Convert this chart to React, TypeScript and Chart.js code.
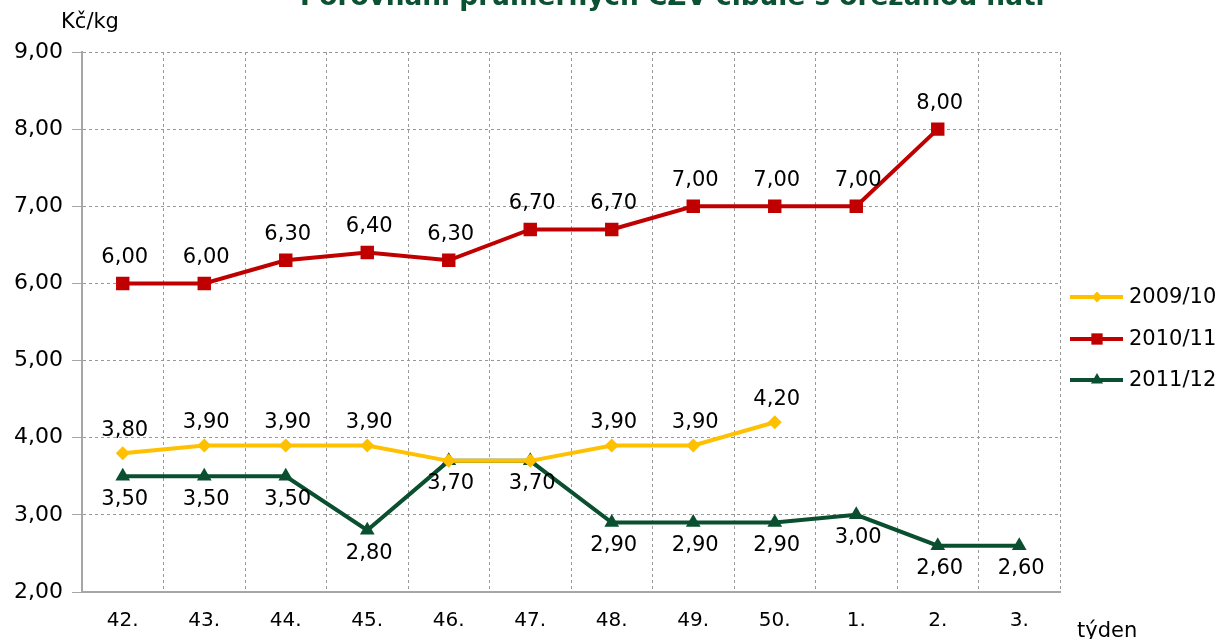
import React, { useEffect, useRef } from "react";
import { Chart, registerables } from "chart.js";
import { drawPoint } from "chart.js/helpers";

Chart.register(...registerables);

const weeks = ["42.", "43.", "44.", "45.", "46.", "47.", "48.", "49.", "50.", "1.", "2.", "3."];
const s0910 = [3.8, 3.9, 3.9, 3.9, 3.7, 3.7, 3.9, 3.9, 4.2, null, null, null];
const s1011 = [6.0, 6.0, 6.3, 6.4, 6.3, 6.7, 6.7, 7.0, 7.0, 7.0, 8.0, null];
const s1112 = [3.5, 3.5, 3.5, 2.8, 3.7, 3.7, 2.9, 2.9, 2.9, 3.0, 2.6, 2.6];
const seriesNames = ["2009/10", "2010/11", "2011/12"];
const seriesColors = ["#FFC000", "#C00000", "#0B4F31"];
const seriesMarkers = ["rectRot", "rect", "triangle"];
const markerRadius = [7, 9.5, 8.5];
const labelSide = ["above", "above", "below"];
const yMin = 2;
const yMax = 9;
const yStep = 1;
const titleText = "Porovnání průměrných CZV cibule s ořezanou natí";
const yUnit = "Kč/kg";
const xTitle = "týden";

const FONT = "'DejaVu Sans', Verdana, sans-serif";
const fmt = (v: number) => v.toFixed(2).replace(".", ",");

const extrasPlugin = {
  id: "extras",
  afterDatasetsDraw(chart: any) {
    const ctx: CanvasRenderingContext2D = chart.ctx;
    ctx.save();
    ctx.font = `21px ${FONT}`;
    ctx.fillStyle = "#000";
    ctx.textAlign = "center";
    ctx.textBaseline = "middle";
    chart.data.datasets.forEach((ds: any, di: number) => {
      const meta = chart.getDatasetMeta(di);
      meta.data.forEach((pt: any, i: number) => {
        const v = ds.data[i];
        if (v === null || v === undefined) return;
        if (di === 0 && s1112[i] === v) return;
        const off = labelSide[di] === "above" ? (di === 1 ? -26 : -23) : 23;
        ctx.fillText(fmt(v), pt.x + 2, pt.y + off);
      });
    });
    ctx.restore();
  },
  afterDraw(chart: any) {
    const ctx: CanvasRenderingContext2D = chart.ctx;
    ctx.save();
    ctx.font = `bold 26px ${FONT}`;
    const w = ctx.measureText(titleText).width;
    const size = (26 * 745) / w;
    ctx.font = `bold ${size}px ${FONT}`;
    ctx.fillStyle = "#0B5132";
    ctx.textAlign = "left";
    ctx.textBaseline = "alphabetic";
    ctx.fillText(titleText, 300, 5);
    ctx.font = `21px ${FONT}`;
    ctx.fillStyle = "#000";
    ctx.textAlign = "center";
    ctx.textBaseline = "middle";
    ctx.fillText(yUnit, 90, 23);
    ctx.textAlign = "left";
    ctx.textBaseline = "alphabetic";
    ctx.fillText(xTitle, 1077, 637);
    const ys = [297, 339, 380];
    seriesNames.forEach((name, i) => {
      const y = ys[i];
      ctx.strokeStyle = seriesColors[i];
      ctx.lineWidth = 4;
      ctx.beginPath();
      ctx.moveTo(1070, y);
      ctx.lineTo(1123, y);
      ctx.stroke();
      ctx.fillStyle = seriesColors[i];
      drawPoint(ctx, { pointStyle: seriesMarkers[i], radius: markerRadius[i] - 1.5, rotation: 0, borderWidth: 0 } as any, 1097, y);
      ctx.fillStyle = "#000";
      ctx.textAlign = "left";
      ctx.textBaseline = "middle";
      ctx.font = `21px ${FONT}`;
      ctx.fillText(name, 1129, y + 1);
    });
    ctx.restore();
  },
};

export default function App() {
  const ref = useRef<HTMLCanvasElement>(null);
  useEffect(() => {
    if (!ref.current) return;
    Chart.defaults.font.family = FONT;
    const datasets = [s0910, s1011, s1112].map((d, i) => ({
      label: seriesNames[i],
      data: d,
      borderColor: seriesColors[i],
      backgroundColor: seriesColors[i],
      borderWidth: 4,
      pointStyle: seriesMarkers[i],
      pointRadius: markerRadius[i],
      pointBorderWidth: 0,
      pointBackgroundColor: seriesColors[i],
      spanGaps: false,
      tension: 0,
    }));
    const chart = new Chart(ref.current, {
      type: "line",
      data: { labels: weeks, datasets },
      plugins: [extrasPlugin],
      options: {
        animation: false,
        responsive: false,
        layout: { padding: { left: 0, right: 167, top: 52, bottom: 0 } },
        plugins: { legend: { display: false }, tooltip: { enabled: false }, title: { display: false } },
        scales: {
          x: {
            type: "category",
            offset: true,
            grid: { offset: true, color: "#999999", lineWidth: 1, drawTicks: false },
            border: { display: true, color: "#A6A6A6", width: 2, dash: [3, 3] },
            ticks: { color: "#000", font: { size: 20, family: FONT }, padding: 17, maxRotation: 0, autoSkip: false },
            afterFit: (s: any) => { s.height = 47; },
          },
          y: {
            min: yMin,
            max: yMax,
            grid: { color: "#999999", lineWidth: 1, tickLength: 10, tickColor: "#A6A6A6" },
            border: { display: true, color: "#A6A6A6", width: 2, dash: [3, 3] },
            ticks: {
              stepSize: yStep,
              color: "#000",
              font: { size: 22, family: FONT },
              padding: 9,
              callback: (v: any) => fmt(Number(v)),
            },
            afterFit: (s: any) => { s.width = 82; },
          },
        },
      },
    });
    return () => chart.destroy();
  }, []);
  return (
    <div style={{ position: "fixed", left: 0, top: 0, width: 1227, height: 639, background: "#fff" }}>
      <canvas ref={ref} width={1227} height={639} style={{ display: "block" }} />
    </div>
  );
}
